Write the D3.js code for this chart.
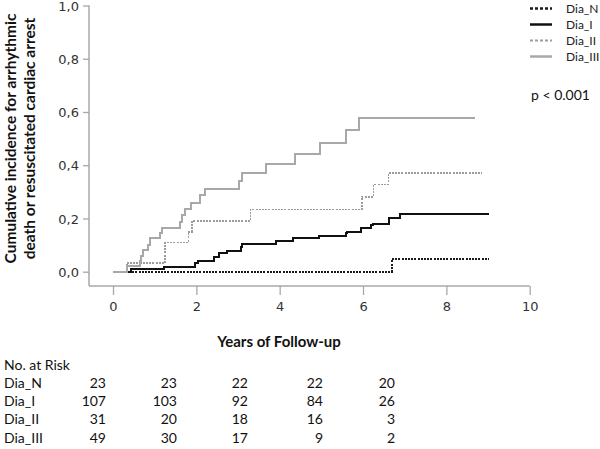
<!DOCTYPE html>
<html>
<head>
<meta charset="utf-8">
<script src="https://cdn.jsdelivr.net/npm/d3@7"></script>
<style>
  body { margin: 0; background: #fff; }
  svg { display: block; }
</style>
</head>
<body>
<svg id="chart" width="600" height="449"></svg>
<script>
// ---- data ----
const seriesNames = ["Dia_N", "Dia_I", "Dia_II", "Dia_III"];

const diaN_t = [0, 6.69, 9.03];
const diaN_v = [0, 0.046, 0.046];

const diaI_t = [0, 0.42, 1.22, 1.97, 2.05, 2.42, 2.55, 2.74, 3.06, 3.09, 3.92, 4.32, 4.94, 5.58, 5.62, 5.95, 6.18, 6.23, 6.63, 6.89, 9.03];
const diaI_v = [0, 0.009, 0.019, 0.031, 0.041, 0.056, 0.069, 0.079, 0.092, 0.104, 0.116, 0.125, 0.134, 0.144, 0.150, 0.163, 0.175, 0.181, 0.200, 0.216, 0.216];

const diaII_t = [0, 0.33, 1.25, 1.81, 1.90, 3.30, 5.97, 6.25, 6.61, 8.85];
const diaII_v = [0, 0.032, 0.110, 0.150, 0.191, 0.234, 0.281, 0.328, 0.371, 0.371];

const diaIII_t = [0, 0.33, 0.65, 0.68, 0.72, 0.83, 0.89, 1.12, 1.17, 1.60, 1.66, 1.72, 1.88, 2.09, 2.20, 3.02, 3.09, 3.66, 4.37, 4.97, 5.59, 5.91, 8.69];
const diaIII_v = [0, 0.020, 0.040, 0.060, 0.081, 0.100, 0.125, 0.145, 0.166, 0.1875, 0.2125, 0.234, 0.259, 0.288, 0.3125, 0.340, 0.369, 0.404, 0.441, 0.484, 0.531, 0.579, 0.579];

const xTicks = [0, 2, 4, 6, 8, 10];
const yTicks = [0, 0.2, 0.4, 0.6, 0.8, 1.0];

const riskRows = ["Dia_N", "Dia_I", "Dia_II", "Dia_III"];
const riskN   = [23, 23, 22, 22, 20];
const riskI   = [107, 103, 92, 84, 26];
const riskII  = [31, 20, 18, 16, 3];
const riskIII = [49, 30, 17, 9, 2];

const pText = "p < 0.001";
const xTitle = "Years of Follow-up";
const yTitle = ["Cumulative incidence for arrhythmic", "death or resuscitated cardiac arrest"];

// ---- layout ----
const svg = d3.select("#chart");
const x = d3.scaleLinear().domain([0, 10]).range([113, 529.7]);
const y = d3.scaleLinear().domain([0, 1]).range([271.7, 5.5]);
const axisColor = "#a8a8a8";
const textFont = "Lato, 'Open Sans', sans-serif";
const tickFont = "'DejaVu Sans', sans-serif";

// axes
const yAxisG = svg.append("g").attr("transform", "translate(89,0)")
  .call(d3.axisLeft(y).tickValues(yTicks).tickSize(6).tickPadding(4)
    .tickFormat(d => d3.format(".1f")(d).replace(".", ",")));
const xAxisG = svg.append("g").attr("transform", "translate(0,286)")
  .call(d3.axisBottom(x).tickValues(xTicks).tickSize(9).tickPadding(7));

[yAxisG, xAxisG].forEach(g => {
  g.selectAll(".domain").remove();
  g.selectAll(".tick line").attr("stroke", axisColor).attr("stroke-width", 1.3);
  g.selectAll(".tick text").attr("fill", "#333").attr("font-family", tickFont).attr("font-size", 13);
});
yAxisG.selectAll(".tick text").attr("dy", "0.36em");
// axis lines (L-shaped frame)
svg.append("line").attr("x1", 89).attr("x2", 89).attr("y1", y(1)).attr("y2", 286)
  .attr("stroke", axisColor).attr("stroke-width", 1.5);
svg.append("line").attr("x1", 89).attr("x2", x(10)).attr("y1", 286).attr("y2", 286)
  .attr("stroke", axisColor).attr("stroke-width", 1.5);

// curves
const styles = {
  "Dia_N":   { color: "#1a1a1a", width: 2,   dash: "2,1.2" },
  "Dia_I":   { color: "#111111", width: 2,   dash: null },
  "Dia_II":  { color: "#9c9c9c", width: 1.6, dash: "2,1.2" },
  "Dia_III": { color: "#a8a8a8", width: 2,   dash: null }
};
const seriesData = {
  "Dia_N":   diaN_t.map((t, i) => [t, diaN_v[i]]),
  "Dia_I":   diaI_t.map((t, i) => [t, diaI_v[i]]),
  "Dia_II":  diaII_t.map((t, i) => [t, diaII_v[i]]),
  "Dia_III": diaIII_t.map((t, i) => [t, diaIII_v[i]])
};
const line = d3.line().x(d => x(d[0])).y(d => y(d[1])).curve(d3.curveStepAfter);
seriesNames.forEach(name => {
  const s = styles[name];
  svg.append("path").datum(seriesData[name])
    .attr("d", line).attr("fill", "none")
    .attr("stroke", s.color).attr("stroke-width", s.width)
    .attr("stroke-dasharray", s.dash)
    .attr("shape-rendering", "crispEdges");
});

// legend
seriesNames.forEach((name, i) => {
  const s = styles[name];
  const ly = 8.5 + i * 16;
  svg.append("line").attr("x1", 530).attr("x2", 552).attr("y1", ly).attr("y2", ly)
    .attr("stroke", s.color).attr("stroke-width", s.width + 0.5).attr("stroke-dasharray", s.dash ? "3,2" : null);
  svg.append("text").attr("x", 566).attr("y", ly + 4.5).text(name)
    .attr("font-family", textFont).attr("font-size", 12).attr("fill", "#222");
});
svg.append("text").attr("x", 531).attr("y", 100).text(pText)
  .attr("font-family", textFont).attr("font-size", 14).attr("fill", "#111");

// titles
svg.append("text").attr("x", 279).attr("y", 347).attr("text-anchor", "middle")
  .text(xTitle).attr("font-family", textFont).attr("font-weight", "bold").attr("font-size", 15).attr("fill", "#111");
yTitle.forEach((t, i) => {
  svg.append("text")
    .attr("transform", `translate(${15.5 + i * 19},138.5) rotate(-90)`)
    .attr("text-anchor", "middle").text(t)
    .attr("font-family", textFont).attr("font-weight", "bold").attr("font-size", 15.5).attr("fill", "#111");
});

// risk table
const riskCols = [106, 177, 248, 323, 395];
svg.append("text").attr("x", 4).attr("y", 370).text("No. at Risk")
  .attr("font-family", textFont).attr("font-size", 14).attr("fill", "#111");
const riskValues = [riskN, riskI, riskII, riskIII];
riskRows.forEach((r, i) => {
  const ry = 388 + i * 18.2;
  svg.append("text").attr("x", 4).attr("y", ry).text(r)
    .attr("font-family", textFont).attr("font-size", 14).attr("fill", "#111");
  riskValues[i].forEach((v, j) => {
    svg.append("text").attr("x", riskCols[j]).attr("y", ry).attr("text-anchor", "end").text(v)
      .attr("font-family", textFont).attr("font-size", 14).attr("fill", "#111");
  });
});
</script>
</body>
</html>
